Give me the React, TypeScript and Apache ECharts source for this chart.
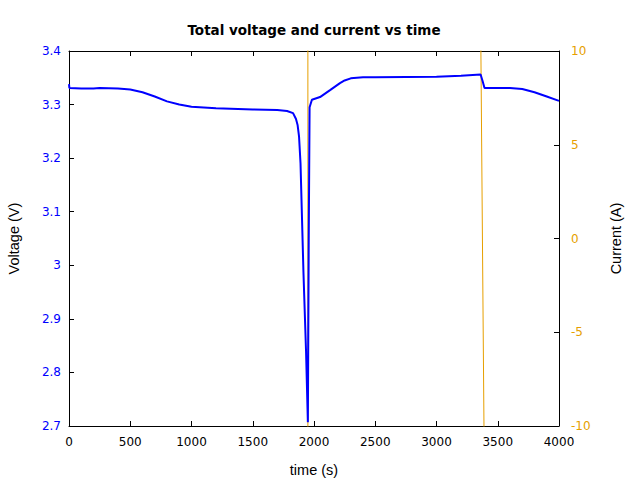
import React, { useEffect, useRef } from "react";
import * as echarts from "echarts";

const timeTicks = [0, 500, 1000, 1500, 2000, 2500, 3000, 3500, 4000];

const voltageTime = [
  0, 3, 100, 200, 250, 400, 500, 600, 700, 800, 900, 1000, 1200, 1500, 1700, 1780,
  1829, 1853, 1866, 1878, 1890, 1914, 1935, 1950, 1957, 1964, 1983, 2049, 2131, 2212, 2250,
  2300, 2400, 2500, 3000, 3200, 3360, 3375, 3392, 3500, 3600, 3700, 3800, 3900, 4000,
];
const voltageValues = [
  3.338, 3.331, 3.330, 3.330, 3.331, 3.330, 3.328, 3.323, 3.315, 3.306, 3.300, 3.296,
  3.293, 3.291, 3.290, 3.288, 3.284, 3.273, 3.262, 3.240, 3.190, 2.986, 2.84, 2.707, 3.05, 3.295,
  3.309, 3.314, 3.327, 3.340, 3.345, 3.349, 3.351, 3.351, 3.352, 3.354, 3.356, 3.345,
  3.331, 3.331, 3.331, 3.329, 3.323, 3.315, 3.307,
];

const currentTime = [0, 1950, 1950, 3350, 3400, 4000];
const currentValues = [-20, -20, 20, 20, -20, -20];

const BLUE = "#0000ff";
const ORANGE = "#e69f00";
const FONT = "DejaVu Sans";
const NAME_FONT = "Liberation Sans";

export default function App() {
  const ref = useRef<HTMLDivElement>(null);
  useEffect(() => {
    if (!ref.current) return;
    const chart = echarts.init(ref.current, null, { renderer: "svg" });
    const vData = voltageTime.map((t, i) => [t, voltageValues[i]]);
    const cData = currentTime.map((t, i) => [t, currentValues[i]]);
    const tickStyle = { show: true, inside: true, length: 5, lineStyle: { color: "#000" } };
    const lineStyle = { show: true, onZero: false, lineStyle: { color: "#000", width: 1 } };
    chart.setOption({
      animation: false,
      backgroundColor: "#ffffff",
      title: {
        text: "Total voltage and current vs time",
        left: 309,
        top: 18,
        textAlign: "center",
        textStyle: { fontFamily: FONT, fontSize: 13.5, fontWeight: "bold", color: "#000" },
      },
      grid: {
        left: 69,
        right: 81,
        top: 51,
        bottom: 54,
        containLabel: false,
        outerBoundsMode: "none",
      },
      xAxis: [
        {
          type: "value",
          min: 0,
          max: 4000,
          interval: 500,
          position: "bottom",
          name: "time (s)",
          nameLocation: "middle",
          nameGap: 36,
          nameTextStyle: { fontFamily: NAME_FONT, fontSize: 14.5, color: "#000" },
          axisLine: lineStyle,
          axisTick: tickStyle,
          axisLabel: {
            fontFamily: FONT,
            fontSize: 12,
            color: "#000",
            margin: 10,
            formatter: (v: number) => String(v),
          },
          splitLine: { show: false },
        },
        {
          type: "value",
          min: 0,
          max: 4000,
          interval: 500,
          position: "top",
          axisLine: lineStyle,
          axisTick: tickStyle,
          axisLabel: { show: false },
          splitLine: { show: false },
        },
      ],
      yAxis: [
        {
          type: "value",
          min: 2.7,
          max: 3.4,
          interval: 0.1,
          position: "left",
          name: "Voltage (V)",
          nameLocation: "middle",
          nameGap: 48,
          nameTextStyle: { fontFamily: NAME_FONT, fontSize: 14.5, color: "#000" },
          axisLine: lineStyle,
          axisTick: tickStyle,
          axisLabel: {
            fontFamily: FONT,
            fontSize: 12,
            color: BLUE,
            margin: 8,
            formatter: (v: number) => String(parseFloat(v.toFixed(2))),
          },
          splitLine: { show: false },
        },
        {
          type: "value",
          min: -10,
          max: 10,
          interval: 5,
          position: "right",
          name: "Current (A)",
          nameLocation: "middle",
          nameGap: 49,
          nameTextStyle: { fontFamily: NAME_FONT, fontSize: 14.5, color: "#000" },
          axisLine: lineStyle,
          axisTick: tickStyle,
          axisLabel: { fontFamily: FONT, fontSize: 12, color: ORANGE, margin: 12 },
          splitLine: { show: false },
        },
      ],
      series: [
        {
          type: "line",
          name: "Current",
          xAxisIndex: 0,
          yAxisIndex: 1,
          data: cData,
          showSymbol: false,
          clip: true,
          lineStyle: { color: ORANGE, width: 1 },
          z: 1,
        },
        {
          type: "line",
          name: "Voltage",
          xAxisIndex: 0,
          yAxisIndex: 0,
          data: vData,
          showSymbol: false,
          clip: true,
          lineStyle: { color: BLUE, width: 2 },
          z: 2,
        },
      ],
    });
    return () => chart.dispose();
  }, []);
  return (
    <div
      ref={ref}
      style={{ position: "fixed", left: 0, top: 0, width: 640, height: 480 }}
    />
  );
}
